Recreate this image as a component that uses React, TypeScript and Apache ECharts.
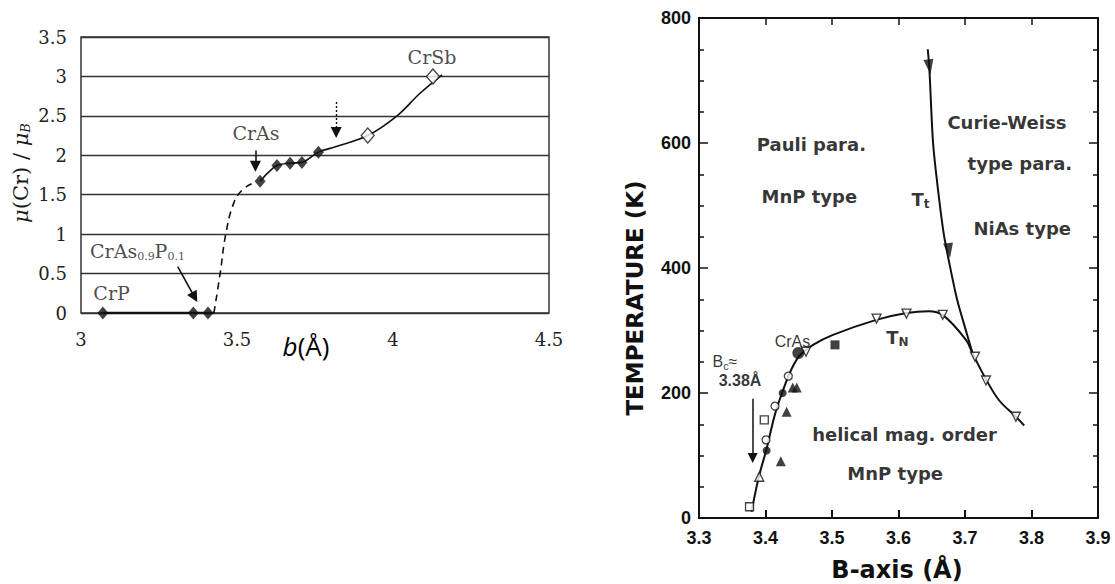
import React, { useEffect, useRef } from "react";
import * as echarts from "echarts";

// ================= Left panel: mu(Cr)/muB versus b (Å) =================
const leftXMin = 3;
const leftXMax = 4.5;
const leftXStep = 0.5;
const leftYMin = 0;
const leftYMax = 3.5;
const leftYStep = 0.5;

// filled diamonds (CrP ... CrAs)
const filledB = [3.07, 3.36, 3.407, 3.574, 3.628, 3.67, 3.708, 3.761];
const filledMu = [0, 0, 0, 1.67, 1.87, 1.9, 1.91, 2.04];
// open diamonds (towards CrSb)
const openB = [3.919, 4.128];
const openMu = [2.25, 3.0];
// guide lines
const zeroB = [3.07, 3.426];
const zeroMu = [0, 0];
const dashB = [3.426, 3.446, 3.464, 3.49, 3.517, 3.547];
const dashMu = [0, 0.5, 1.0, 1.4, 1.56, 1.64];
const solidB = [3.574, 3.6, 3.628, 3.67, 3.708, 3.761, 3.818, 3.919, 4.013, 4.085, 4.157];
const solidMu = [1.67, 1.78, 1.87, 1.9, 1.91, 2.04, 2.11, 2.25, 2.5, 2.78, 3.02];
// annotations
const leftLabelNames = ["{n|CrP}", "{n|CrAs}{s|0.9}{n|P}{s|0.1}", "{n|CrAs}", "{n|CrSb}"];
const leftLabelB = [3.098, 3.181, 3.561, 4.125];
const leftLabelMu = [0.25, 0.79, 2.28, 3.25];
const leftArrowFrom = [[3.559, 2.06], [3.31, 0.587]];
const leftArrowTo = [[3.559, 1.86], [3.364, 0.2]];
const dottedArrowFrom = [3.818, 2.675];
const dottedArrowTo = [3.818, 2.29];

// ================= Right panel: T versus B-axis =================
const rightXMin = 3.3;
const rightXMax = 3.9;
const rightXStep = 0.1;
const rightYMin = 0;
const rightYMax = 800;
const rightYStep = 200;

const tnB = [3.379, 3.39, 3.4015, 3.414, 3.4255, 3.439, 3.4515, 3.4715, 3.5015, 3.5665, 3.612, 3.645, 3.6665, 3.7015, 3.7115, 3.7315, 3.7515, 3.7765, 3.789];
const tnT = [10, 66, 110, 165, 202, 238, 260, 277, 293, 317, 328, 331, 325, 285, 263, 222, 188, 162, 148];
const ttB = [3.644, 3.6465, 3.652, 3.66, 3.668, 3.676, 3.688, 3.7, 3.7115];
const ttT = [750, 717, 600, 520, 455, 410, 350, 305, 263];
const ttArrowB = [3.6465, 3.676];
const ttArrowT = [722, 428];

const openDownTriB = [3.4609, 3.567, 3.612, 3.6665, 3.715, 3.7315, 3.7765];
const openDownTriT = [266, 319, 327, 325, 258, 220, 162];
const openUpTriB = [3.3906];
const openUpTriT = [66];
const openCircleB = [3.4008, 3.4143, 3.4343];
const openCircleT = [125, 179, 227];
const openSquareB = [3.376, 3.3982];
const openSquareT = [18, 157];
const filledCircleB = [3.4017, 3.4258];
const filledCircleT = [108, 200];
const crAsB = [3.4494];
const crAsT = [264];
const filledTriB = [3.441, 3.447, 3.4318, 3.423];
const filledTriT = [209, 209, 170, 91];
const filledSquareB = [3.5045];
const filledSquareT = [277];

const rightLabelNames = [
  "{b|Pauli para.}",
  "{b|MnP type}",
  "{b|T}{bs|t}",
  "{b|Curie-Weiss}",
  "{b|type para.}",
  "{b|NiAs type}",
  "{b|T}{bs|N}",
  "{c|CrAs}",
  "{c|B}{cs|c}{c|≈}",
  "{d|3.38Å}",
  "{b|helical mag. order}",
  "{b|MnP type}",
];
const rightLabelB = [3.469, 3.466, 3.633, 3.763, 3.7825, 3.786, 3.5985, 3.4405, 3.339, 3.3617, 3.609, 3.595];
const rightLabelT = [598, 515, 510, 633, 567, 463, 289, 283, 250, 220, 133, 71];
const bcArrowFrom = [3.3807, 191];
const bcArrowTo = [3.3807, 96];

// ================= styling =================
const SERIF = "'DejaVu Serif', 'Liberation Serif', serif";
const BOLD = "'DejaVu Sans', sans-serif";
const ARIAL = "'Liberation Sans', Arial, sans-serif";
const INK = "#111111";

const pairs = (xs: number[], ys: number[]) => xs.map((x, i) => [x, ys[i]]);

function scatter(xi: number, xs: number[], ys: number[], symbol: string, size: any, filled: boolean, rotate = 0) {
  return {
    type: "scatter",
    xAxisIndex: xi,
    yAxisIndex: xi === 0 ? 0 : 1,
    symbol,
    symbolSize: size,
    symbolRotate: rotate,
    silent: true,
    z: 4,
    itemStyle: filled
      ? { color: INK }
      : { color: "#fff", borderColor: INK, borderWidth: 1.3 },
    data: pairs(xs, ys),
  };
}

function line(xi: number, xs: number[], ys: number[], width: number, type: any = "solid", smooth: any = 0.35) {
  return {
    type: "line",
    xAxisIndex: xi,
    yAxisIndex: xi === 0 ? 0 : 1,
    showSymbol: false,
    symbol: "none",
    smooth,
    silent: true,
    z: 3,
    lineStyle: { color: INK, width, type },
    data: pairs(xs, ys),
  };
}

export default function App() {
  const ref = useRef<HTMLDivElement>(null);

  useEffect(() => {
    const chart = echarts.init(ref.current as HTMLDivElement, null, { renderer: "svg" });

    const leftRich = {
      n: { fontFamily: SERIF, fontSize: 19, color: "#1a1a1a", lineHeight: 22 },
      s: { fontFamily: SERIF, fontSize: 11, color: "#1a1a1a", verticalAlign: "bottom", lineHeight: 16 },
    };
    const rightRich = {
      b: { fontFamily: BOLD, fontWeight: "bold", fontSize: 18, color: "#000", lineHeight: 22 },
      bs: { fontFamily: BOLD, fontWeight: "bold", fontSize: 12, color: "#000", verticalAlign: "bottom", lineHeight: 14 },
      c: { fontFamily: ARIAL, fontSize: 16, color: "#000", lineHeight: 19 },
      cs: { fontFamily: ARIAL, fontSize: 11, color: "#000", verticalAlign: "bottom", lineHeight: 13 },
      d: { fontFamily: ARIAL, fontWeight: "bold", fontSize: 16, color: "#000", lineHeight: 19 },
    };

    const option: any = {
      animation: false,
      backgroundColor: "#ffffff",
      grid: [
        { left: 81, top: 37, width: 468, height: 276, show: true, borderColor: "#333", borderWidth: 1.5, backgroundColor: "transparent" },
        { left: 699, top: 18, width: 399, height: 500, show: false },
      ],
      xAxis: [
        {
          gridIndex: 0, type: "value", min: leftXMin, max: leftXMax, interval: leftXStep,
          axisLine: { show: false }, axisTick: { show: false }, splitLine: { show: false },
          axisLabel: { fontFamily: SERIF, fontSize: 18, color: "#222", margin: 17 },
        },
        {
          gridIndex: 1, type: "value", position: "bottom", min: rightXMin, max: rightXMax, interval: rightXStep,
          axisLine: { show: true, onZero: false, lineStyle: { color: INK, width: 2 } },
          axisTick: { show: true, inside: true, length: 8, lineStyle: { color: INK, width: 2 } },
          splitLine: { show: false },
          axisLabel: { fontFamily: ARIAL, fontWeight: "bold", fontSize: 18, color: INK, margin: 11, formatter: (v: number) => v.toFixed(1) },
        },
        {
          gridIndex: 1, type: "value", position: "top", min: rightXMin, max: rightXMax, interval: rightXStep,
          axisLine: { show: true, onZero: false, lineStyle: { color: INK, width: 2 } },
          axisTick: { show: true, inside: true, length: 7, lineStyle: { color: INK, width: 1.5 } },
          splitLine: { show: false }, axisLabel: { show: false },
        },
      ],
      yAxis: [
        {
          gridIndex: 0, type: "value", min: leftYMin, max: leftYMax, interval: leftYStep,
          axisLine: { show: false }, axisTick: { show: false },
          splitLine: { show: true, lineStyle: { color: "#333", width: 1.4 } },
          axisLabel: { fontFamily: SERIF, fontSize: 18, color: "#222", margin: 14 },
        },
        {
          gridIndex: 1, type: "value", position: "left", min: rightYMin, max: rightYMax, interval: rightYStep,
          axisLine: { show: true, onZero: false, lineStyle: { color: INK, width: 2 } },
          axisTick: { show: true, inside: true, length: 9, lineStyle: { color: INK, width: 1.5 } },
          minorTick: { show: true, splitNumber: 4, length: 5, lineStyle: { color: INK, width: 1.5 } },
          splitLine: { show: false },
          axisLabel: { fontFamily: ARIAL, fontWeight: "bold", fontSize: 18, color: INK, margin: 8 },
        },
        {
          gridIndex: 1, type: "value", position: "right", min: rightYMin, max: rightYMax, interval: rightYStep,
          axisLine: { show: true, onZero: false, lineStyle: { color: INK, width: 2 } },
          axisTick: { show: true, inside: true, length: 9, lineStyle: { color: INK, width: 1.5 } },
          minorTick: { show: true, splitNumber: 4, length: 5, lineStyle: { color: INK, width: 1.5 } },
          splitLine: { show: false }, axisLabel: { show: false },
        },
      ],
      graphic: [
        {
          type: "text", x: 21, y: 173, rotation: Math.PI / 2,
          style: {
            text: "{i|μ}{n|(Cr) / }{i|μ}{s|B}", align: "center", verticalAlign: "middle", fill: "#1a1a1a",
            rich: {
              i: { fontFamily: SERIF, fontStyle: "italic", fontSize: 21, fill: "#1a1a1a" },
              n: { fontFamily: SERIF, fontSize: 21, fill: "#1a1a1a" },
              s: { fontFamily: SERIF, fontStyle: "italic", fontSize: 13, fill: "#1a1a1a", verticalAlign: "bottom" },
            },
          },
        },
        {
          type: "text", x: 306, y: 346,
          style: {
            text: "{i|b}{n|(Å)}", align: "center", verticalAlign: "middle", fill: "#000",
            rich: {
              i: { fontFamily: "'Open Sans', sans-serif", fontStyle: "italic", fontSize: 26, fill: "#000" },
              n: { fontFamily: "'Open Sans', sans-serif", fontSize: 26, fill: "#000" },
            },
          },
        },
        {
          type: "text", x: 897, y: 570,
          style: { text: "B-axis (Å)", align: "center", verticalAlign: "middle", fill: INK, fontFamily: BOLD, fontWeight: "bold", fontSize: 24 },
        },
        {
          type: "text", x: 635, y: 298, rotation: Math.PI / 2,
          style: { text: "TEMPERATURE (K)", align: "center", verticalAlign: "middle", fill: INK, fontFamily: BOLD, fontWeight: "bold", fontSize: 23 },
        },
      ],
      series: [
        // ---- left panel ----
        line(0, zeroB, zeroMu, 2.6, "solid", false),
        line(0, dashB, dashMu, 1.6, [7, 5], 0.45),
        line(0, solidB, solidMu, 1.6, "solid", 0.35),
        scatter(0, filledB, filledMu, "diamond", [11, 13], true),
        scatter(0, openB, openMu, "diamond", [13, 15], false),
        {
          type: "scatter", xAxisIndex: 0, yAxisIndex: 0, symbolSize: 1, silent: true, z: 6,
          itemStyle: { color: "rgba(0,0,0,0)" },
          data: leftLabelNames.map((n, i) => ({ name: n, value: [leftLabelB[i], leftLabelMu[i]] })),
          label: { show: true, position: "inside", formatter: (p: any) => p.name, color: "#1a1a1a", rich: leftRich },
          markLine: {
            silent: true, animation: false, symbol: ["none", "triangle"], symbolSize: 11,
            label: { show: false },
            lineStyle: { color: INK, width: 1.6, type: "solid" },
            data: [
              [{ coord: leftArrowFrom[0] }, { coord: leftArrowTo[0] }],
              [{ coord: leftArrowFrom[1] }, { coord: leftArrowTo[1] }],
              [{ coord: dottedArrowFrom, lineStyle: { type: [2, 2], width: 1.4, color: INK } }, { coord: dottedArrowTo }],
            ],
          },
        },
        // ---- right panel ----
        line(1, tnB, tnT, 2, "solid", 0.35),
        line(1, ttB, ttT, 2, "solid", 0.3),
        scatter(1, ttArrowB, ttArrowT, "triangle", [10, 15], true, 188),
        scatter(1, openDownTriB, openDownTriT, "triangle", 9, false, 180),
        scatter(1, openUpTriB, openUpTriT, "triangle", 9, false),
        scatter(1, openCircleB, openCircleT, "circle", 8, false),
        scatter(1, openSquareB, openSquareT, "rect", 8, false),
        scatter(1, filledCircleB, filledCircleT, "circle", 8, true),
        scatter(1, crAsB, crAsT, "circle", 12, true),
        scatter(1, filledTriB, filledTriT, "triangle", 10, true),
        scatter(1, filledSquareB, filledSquareT, "rect", 9, true),
        {
          type: "scatter", xAxisIndex: 1, yAxisIndex: 1, symbolSize: 1, silent: true, z: 6,
          itemStyle: { color: "rgba(0,0,0,0)" },
          data: rightLabelNames.map((n, i) => ({ name: n, value: [rightLabelB[i], rightLabelT[i]] })),
          label: { show: true, position: "inside", formatter: (p: any) => p.name, color: "#000", rich: rightRich },
          markLine: {
            silent: true, animation: false, symbol: ["none", "triangle"], symbolSize: 10,
            label: { show: false },
            lineStyle: { color: INK, width: 1.5, type: "solid" },
            data: [[{ coord: bcArrowFrom }, { coord: bcArrowTo }]],
          },
        },
      ],
    };

    chart.setOption(option);
    return () => chart.dispose();
  }, []);

  return (
    <div
      ref={ref}
      style={{ position: "fixed", left: 0, top: 0, width: 1115, height: 584, background: "#fff" }}
    />
  );
}
